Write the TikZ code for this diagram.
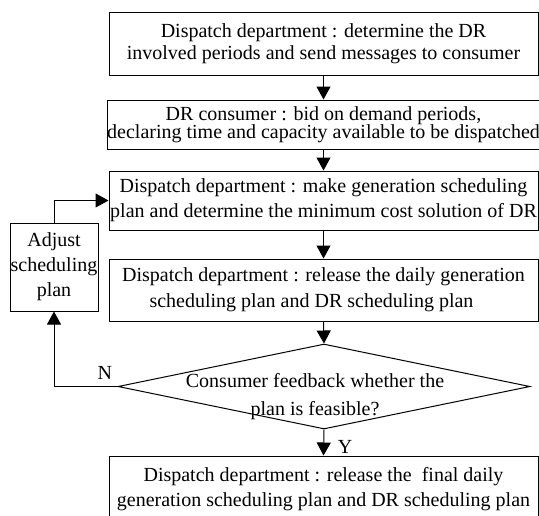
\documentclass[tikz,border=0pt]{standalone}
\usepackage{fontspec}
\setmainfont{Liberation Serif}
\usetikzlibrary{shapes.geometric,arrows.meta}

\begin{document}
\begin{tikzpicture}[x=0.5pt,y=-0.5pt,
	font=\fontsize{10}{12.5}\selectfont,
	box/.style={draw, line width=0.5pt, minimum width=214.5pt, inner sep=0pt, align=center},
	decision/.style={draw, diamond, line width=0.5pt, minimum width=206pt, minimum height=42.5pt, inner sep=0pt},
	arr/.style={line width=0.5pt, -{Triangle[length=6.5pt,width=7pt]}}]
	
	\useasboundingbox (0,0) rectangle (539,515);
	
	\node[box, minimum height=31.5pt] (determine) at (323.5,43.5)
	{Dispatch department : determine the DR\\[-1.5pt]involved periods and send messages to consumer};
	\node[box, minimum height=24.5pt] (bid) at (323.5,124.5)
	{DR consumer : bid on demand periods,\\[-3.5pt]declaring time and capacity available to be dispatched};
	\node[box, minimum height=29.5pt] (makeplan) at (323.5,200.5)
	{Dispatch department : make generation scheduling\\plan and determine the minimum cost solution of DR};
	\node[box, minimum height=31pt] (release) at (323.5,290)
	{Dispatch department : release the daily generation\\[0.5pt]scheduling plan and DR scheduling plan\hspace*{12pt}};
	\node[decision] (feasible) at (324,386.5) {};
	\node[align=center] (feasibletext) at (315,396.5)
	{Consumer feedback whether the\\[1.5pt]plan is feasible?};
	\node[box, minimum height=33pt] (final) at (323.5,489)
	{Dispatch department : release the \ final daily\\generation scheduling plan and DR scheduling plan};
	\node[box, minimum width=44pt, minimum height=44pt] (adjust) at (54,267)
	{Adjust\\scheduling\\plan};
	
	\draw[arr] (determine) -- (bid);
	\draw[arr] (bid) -- (makeplan);
	\draw[arr] (makeplan) -- (release);
	\draw[arr] (release.south) -- (feasible.north);
	\draw[arr] (feasible.south) -- (final.north) node[pos=0.67, right=3.5pt] {Y};
	\draw[arr] (feasible.west) -| (adjust.south) node[pos=0.1, above] {N};
	\draw[arr] (adjust.north) |- (makeplan.west);
\end{tikzpicture}
\end{document}
